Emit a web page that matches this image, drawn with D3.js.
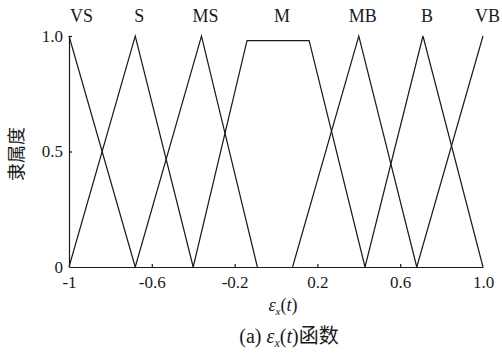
<!DOCTYPE html>
<html>
<head>
<meta charset="utf-8">
<script src="https://cdn.jsdelivr.net/npm/d3@7"></script>
<style>
  html, body { margin: 0; padding: 0; background: #fff; }
  svg { display: block; }
  text { font-family: "Liberation Serif", "Times New Roman", serif; fill: #1a1a1a; }
  .cjk { font-family: "Noto Sans CJK SC", sans-serif; }
</style>
</head>
<body>
<script>
// Fuzzy sets of the input ε_x(t) and their breakpoints
const setNames = ["VS", "S", "MS", "M", "MB", "B", "VB"];
const breakX = [
  [-1, -0.68],
  [-1, -0.68, -0.40],
  [-0.68, -0.36, -0.09],
  [-0.40, -0.14, 0.16, 0.43],
  [0.08, 0.40, 0.68],
  [0.43, 0.71, 1.0],
  [0.68, 1.0]
];
const breakY = [
  [1, 0],
  [0, 1, 0],
  [0, 1, 0],
  [0, 0.98, 0.98, 0],
  [0, 1, 0],
  [0, 1, 0],
  [0, 1]
];
const xTicks = [-1, -0.6, -0.2, 0.2, 0.6, 1.0];
const xTickLabels = ["-1", "-0.6", "-0.2", "0.2", "0.6", "1.0"];
const yTicks = [0, 0.5, 1.0];
const yTickLabels = ["0", "0.5", "1.0"];

const W = 502, H = 355;
const svg = d3.select("body").append("svg").attr("width", W).attr("height", H);

const x = d3.scaleLinear().domain([-1, 1]).range([69, 483]);
const y = d3.scaleLinear().domain([0, 1]).range([267, 36]);
const ink = "#1a1a1a";

// axes with short inward ticks
const gx = svg.append("g").attr("transform", `translate(0,${y(0)})`)
  .call(d3.axisBottom(x).tickValues(xTicks).tickSize(-3).tickSizeOuter(0).tickPadding(9)
    .tickFormat((d, i) => xTickLabels[i]));
const gy = svg.append("g").attr("transform", `translate(${x(-1)},0)`)
  .call(d3.axisLeft(y).tickValues(yTicks).tickSize(-3).tickSizeOuter(0).tickPadding(6)
    .tickFormat((d, i) => yTickLabels[i]));
[gx, gy].forEach(g => {
  g.attr("font-family", null);
  g.selectAll("path, line").attr("stroke", ink).attr("stroke-width", 1.2);
  g.selectAll("text").attr("font-size", 17).attr("fill", ink);
});
gy.selectAll(".tick").filter(d => d === 0).select("line").remove();
gx.selectAll(".tick").filter(d => d === -1 || d === 1).select("line").remove();

// membership function polylines
const line = d3.line().x(d => x(d[0])).y(d => y(d[1]));
setNames.forEach((name, i) => {
  const pts = breakX[i].map((v, j) => [v, breakY[i][j]]);
  svg.append("path").attr("d", line(pts))
    .attr("fill", "none").attr("stroke", ink).attr("stroke-width", 1.2)
    .attr("stroke-linejoin", "miter");
});

// set names above each peak
setNames.forEach((name, i) => {
  const xs = breakX[i], ys = breakY[i];
  const top = d3.max(ys);
  const peak = xs.filter((v, j) => ys[j] === top);
  const cx = x(d3.mean(peak));
  let anchor = "middle", px = cx + 4;
  if (i === 0) { anchor = "start"; px = cx + 1; }
  if (i === setNames.length - 1) { anchor = "end"; px = cx + 17; }
  svg.append("text").attr("x", px).attr("y", 22).attr("text-anchor", anchor)
    .attr("font-size", 18).text(name);
});

// y-axis title
svg.append("text").attr("class", "cjk")
  .attr("transform", `translate(23,154) rotate(-90)`)
  .attr("text-anchor", "middle").attr("font-size", 18).text("隶属度");

// x-axis title ε_x(t)
const xt = svg.append("text").attr("x", 283).attr("y", 311).attr("text-anchor", "middle").attr("font-size", 18);
xt.append("tspan").attr("font-style", "italic").text("ε");
xt.append("tspan").attr("font-style", "italic").attr("font-size", 11).attr("dy", 4).text("x");
xt.append("tspan").attr("dy", -4).text("(");
xt.append("tspan").attr("font-style", "italic").text("t");
xt.append("tspan").text(")");

// caption
const cap = svg.append("text").attr("x", 289).attr("y", 343).attr("text-anchor", "middle").attr("font-size", 20);
cap.append("tspan").text("(a) ");
cap.append("tspan").attr("font-style", "italic").text("ε");
cap.append("tspan").attr("font-style", "italic").attr("font-size", 12).attr("dy", 4).text("x");
cap.append("tspan").attr("dy", -4).text("(");
cap.append("tspan").attr("font-style", "italic").text("t");
cap.append("tspan").text(")");
cap.append("tspan").attr("class", "cjk").attr("font-size", 20).text("函数");
</script>
</body>
</html>
